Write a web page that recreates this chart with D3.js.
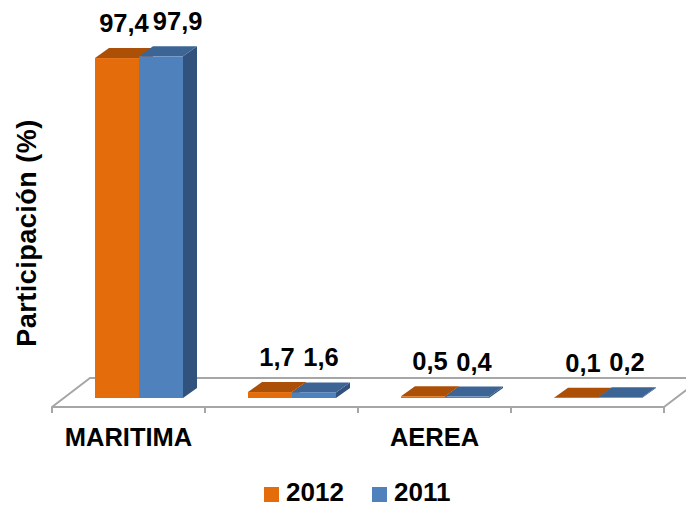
<!DOCTYPE html>
<html>
<head>
<meta charset="utf-8">
<script src="https://cdn.jsdelivr.net/npm/d3@7"></script>
<style>
  html, body { margin: 0; padding: 0; background: #fff; }
  svg { display: block; }
  text { font-family: "Liberation Sans", Arial, sans-serif; font-weight: bold; fill: #000; }
</style>
</head>
<body>
<svg id="chart" width="686" height="507"></svg>
<script>
// Participación (%) por modo de transporte, 2012 vs 2011
const categories = ["MARITIMA", "TERRESTRE", "AEREA", "OTRAS"];
const seriesNames = ["2012", "2011"];
const values2012 = [97.4, 1.7, 0.5, 0.1];
const values2011 = [97.9, 1.6, 0.4, 0.2];
const yDomain = [0, 100];
const axisTitle = "Participación (%)";

const palette = {
  "2012": { front: "#E46C0A", top: "#AC5008", side: "#A14A07" },
  "2011": { front: "#4F81BD", top: "#3C6595", side: "#31527C" }
};

const svg = d3.select("#chart");

// floor geometry (oblique projection)
const floorLeft = 52, floorRight = 664, floorFrontY = 407;
const floorDepth = { dx: 38, dy: -29 };
const barDepth = { dx: 14, dy: -10 };
const barShift = { dx: 10.5, dy: -9 };   // bars stand a bit behind the front edge
const groupWidth = 88;

const x = d3.scaleBand().domain(categories).range([floorLeft, floorRight]).paddingInner(0).paddingOuter(0);
const xs = d3.scaleBand().domain(seriesNames).range([0, groupWidth]).padding(0);
const baseY = floorFrontY + barShift.dy;
const y = d3.scaleLinear().domain(yDomain).range([baseY, baseY - 349]);

const locale = d3.formatLocale({ decimal: ",", thousands: ".", grouping: [3], currency: ["", ""] });
const fmt = locale.format(".1f");

const data = seriesNames.map((s, si) => ({
  name: s,
  values: (si === 0 ? values2012 : values2011).map((v, i) => ({ cat: categories[i], value: v }))
}));

// floor
const g = svg.append("g");
const floor = [
  [floorLeft, floorFrontY],
  [floorRight, floorFrontY],
  [floorRight + floorDepth.dx, floorFrontY + floorDepth.dy],
  [floorLeft + floorDepth.dx, floorFrontY + floorDepth.dy]
];
g.append("path")
  .attr("d", d3.line()(floor) + "Z")
  .attr("fill", "#fff")
  .attr("stroke", "#A6A6A6")
  .attr("stroke-width", 2)
  .attr("stroke-linejoin", "round");

// category boundary ticks
const boundaries = categories.map(c => x(c)).concat([floorRight]);
g.selectAll("line.tick")
  .data(boundaries)
  .join("line")
  .attr("class", "tick")
  .attr("x1", d => d).attr("x2", d => d)
  .attr("y1", floorFrontY).attr("y2", floorFrontY + 6)
  .attr("stroke", "#A6A6A6").attr("stroke-width", 2);

// category labels (every other one, as space allows)
const axis = d3.axisBottom(x)
  .tickSizeInner(0).tickSizeOuter(0).tickPadding(0)
  .tickFormat((d, i) => (i % 2 === 0 ? d : ""));
const axisG = svg.append("g")
  .attr("transform", `translate(0, ${floorFrontY})`)
  .call(axis);
axisG.select(".domain").remove();
axisG.selectAll("text")
  .attr("y", 39)
  .attr("dy", null)
  .style("font-size", "25.5px")
  .style("font-family", "'Liberation Sans', Arial, sans-serif")
  .style("font-weight", "bold")
  .attr("fill", "#000");

// 3D bars
const bars = svg.append("g");
const barRects = [];
categories.forEach(cat => {
  data.forEach(s => {
    const d = s.values.find(v => v.cat === cat);
    const x0 = x(cat) + (x.bandwidth() - groupWidth) / 2 + xs(s.name) + barShift.dx;
    const x1 = x0 + xs.bandwidth();
    const y0 = y(0), y1 = y(d.value);
    const col = palette[s.name];
    const bg = bars.append("g");
    bg.append("path")
      .attr("d", d3.line()([[x1, y0], [x1 + barDepth.dx, y0 + barDepth.dy], [x1 + barDepth.dx, y1 + barDepth.dy], [x1, y1]]) + "Z")
      .attr("fill", col.side);
    bg.append("path")
      .attr("d", d3.line()([[x0, y1], [x1, y1], [x1 + barDepth.dx, y1 + barDepth.dy], [x0 + barDepth.dx, y1 + barDepth.dy]]) + "Z")
      .attr("fill", col.top);
    bg.append("rect")
      .attr("x", x0).attr("y", y1)
      .attr("width", x1 - x0).attr("height", y0 - y1)
      .attr("fill", col.front);
    barRects.push({ cat, series: s.name, value: d.value,
      cx: (x0 + x1) / 2 + barDepth.dx / 2, topBack: y1 + barDepth.dy });
  });
});

// value labels, nudged apart when they would collide
const labelG = svg.append("g");
categories.forEach(cat => {
  let prevRight = -Infinity;
  barRects.filter(b => b.cat === cat).forEach(b => {
    const t = labelG.append("text")
      .attr("text-anchor", "middle")
      .attr("x", b.cx)
      .attr("y", b.topBack - 16)
      .style("font-size", "25.5px")
      .text(fmt(b.value));
    const w = t.node().getComputedTextLength();
    let cx = b.cx;
    if (cx - w / 2 < prevRight + 4) {
      cx = prevRight + 4 + w / 2;
      t.attr("x", cx);
    }
    prevRight = cx + w / 2;
  });
});

// y-axis title
svg.append("text")
  .attr("transform", "translate(36, 233) rotate(-90)")
  .attr("text-anchor", "middle")
  .style("font-size", "27px")
  .style("letter-spacing", "0.5px")
  .text(axisTitle);

// legend
const legend = svg.append("g");
const legendX = [264, 372];
seriesNames.forEach((s, i) => {
  legend.append("rect")
    .attr("x", legendX[i]).attr("y", 487)
    .attr("width", 15).attr("height", 15)
    .attr("fill", palette[s].front);
  legend.append("text")
    .attr("x", legendX[i] + 22).attr("y", 501)
    .style("font-size", "26px")
    .text(s);
});
</script>
</body>
</html>
